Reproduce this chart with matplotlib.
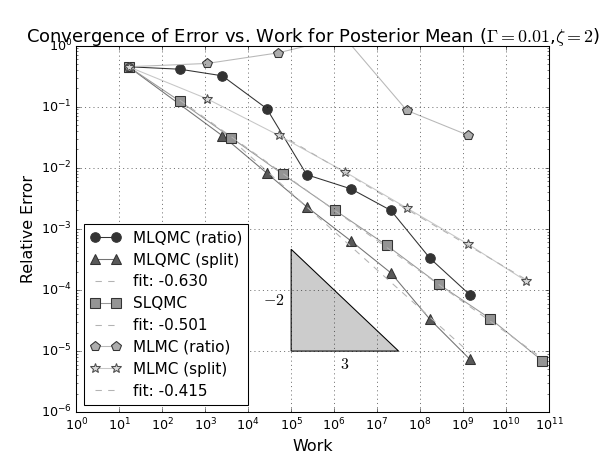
"""Error vs. work convergence plot for the posterior mean (classic mpl look)."""
import matplotlib

matplotlib.use("Agg")
import matplotlib.pyplot as plt  # noqa: E402
import numpy as np  # noqa: E402
from matplotlib.patches import Polygon  # noqa: E402

# --- data ------------------------------------------------------------------
mlqmc_ratio_work = [16.5, 260, 2.5e3, 2.7e4, 2.3e5, 2.5e6, 2.1e7, 1.7e8, 1.45e9]
mlqmc_ratio_err = [0.45, 0.41, 0.32, 0.093, 0.0077, 0.0045, 0.0020, 3.3e-4, 8.3e-5]

mlqmc_split_work = [16.5, 2.5e3, 2.7e4, 2.3e5, 2.5e6, 2.1e7, 1.7e8, 1.45e9]
mlqmc_split_err = [0.45, 0.0335, 0.0082, 0.0023, 6.3e-4, 1.9e-4, 3.3e-5, 7.3e-6]

slqmc_work = [16.5, 257, 4.07e3, 6.46e4, 1.07e6, 1.66e7, 2.69e8, 4.27e9, 6.9e10]
slqmc_err = [0.45, 0.123, 0.031, 0.0078, 0.0020, 5.4e-4, 1.25e-4, 3.4e-5, 7.0e-6]

mlmc_ratio_work = [16.5, 1.12e3, 5.0e4, 1.7e6, 4.9e7, 1.32e9]
mlmc_ratio_err = [0.45, 0.51, 0.76, 1.39, 0.087, 0.034]

mlmc_split_work = [16.5, 1.12e3, 5.1e4, 1.82e6, 4.9e7, 1.32e9, 2.95e10]
mlmc_split_err = [0.45, 0.134, 0.034, 0.0085, 0.0022, 5.6e-4, 1.4e-4]

# fitted rates (legend) and first point index used by each fit
fit_split_rate, fit_split_from = -0.630, 1
fit_slqmc_rate, fit_slqmc_from = -0.501, 1
fit_mlmc_rate, fit_mlmc_from = -0.415, 2

# reference slope triangle: -2 over 3, drawn across 2.5 decades of work
tri_x0, tri_y0 = 1e5, 1e-5
tri_run, tri_rise = 3, -2
tri_decades = 2.5


def fit_line(work, err, rate, start):
    lx = np.log10(work[start:])
    ly = np.log10(err[start:])
    a = ly.mean() - rate * lx.mean()
    xs = np.array([lx.min(), lx.max()])
    return 10 ** xs, 10 ** (a + rate * xs)


plt.style.use("classic")
plt.rcParams["axes.unicode_minus"] = False

fig = plt.figure(figsize=(8, 6.01), dpi=76.25, facecolor="white")
ax = fig.add_subplot(111)

mk = dict(ms=9, mew=1.0, mec="0.2")
ax.loglog(mlqmc_ratio_work, mlqmc_ratio_err, "-o", color="0.2", mfc="0.2",
          label="MLQMC (ratio)", **mk)
ax.loglog(mlqmc_split_work, mlqmc_split_err, "-^", color="0.45", mfc="0.35",
          label="MLQMC (split)", **mk)
fx, fy = fit_line(mlqmc_split_work, mlqmc_split_err, fit_split_rate, fit_split_from)
ax.loglog(fx, fy, "--", color="0.7", label=f"fit: {fit_split_rate:.3f}")

ax.loglog(slqmc_work, slqmc_err, "-s", color="0.6", mfc="0.58",
          label="SLQMC", **mk)
fx, fy = fit_line(slqmc_work, slqmc_err, fit_slqmc_rate, fit_slqmc_from)
ax.loglog(fx, fy, "--", color="0.7", label=f"fit: {fit_slqmc_rate:.3f}")

ax.loglog(mlmc_ratio_work, mlmc_ratio_err, "-p", color="0.72", mfc="0.68",
          label="MLMC (ratio)", **mk)
ax.loglog(mlmc_split_work, mlmc_split_err, "-*", color="0.78", mfc="0.85",
          label="MLMC (split)", ms=10, mew=1.0, mec="0.3")
fx, fy = fit_line(mlmc_split_work, mlmc_split_err, fit_mlmc_rate, fit_mlmc_from)
ax.loglog(fx, fy, "--", color="0.7", label=f"fit: {fit_mlmc_rate:.3f}")

# slope triangle
tx1 = tri_x0 * 10 ** tri_decades
ty1 = tri_y0 * 10 ** (tri_decades * -tri_rise / tri_run)
tri = Polygon([(tri_x0, tri_y0), (tx1, tri_y0), (tri_x0, ty1)], closed=True,
              facecolor="0.8", edgecolor="k", lw=1.0, zorder=1)
ax.add_patch(tri)
ax.text(tri_x0 / 2.6, np.sqrt(tri_y0 * ty1), rf"${tri_rise}$", fontsize=15,
        ha="center", va="center")
ax.text(np.sqrt(tri_x0 * tx1), tri_y0 / 1.65, rf"${tri_run}$", fontsize=15,
        ha="center", va="center")

ax.set_xlim(1e0, 1e11)
ax.set_ylim(1e-6, 1e0)
ax.grid(True)
ax.set_xlabel("Work", fontsize=15)
ax.set_ylabel("Relative Error", fontsize=15)
ax.set_title(r"Convergence of Error vs. Work for Posterior Mean ($\Gamma=0.01$,$\zeta=2$)",
             fontsize=17, pad=4)
ax.legend(loc="lower left", fontsize=14.4, numpoints=2, handlelength=2.0,
          labelspacing=0.45, borderpad=0.4)

fig.savefig("out.png", dpi=76.25, facecolor="white")
